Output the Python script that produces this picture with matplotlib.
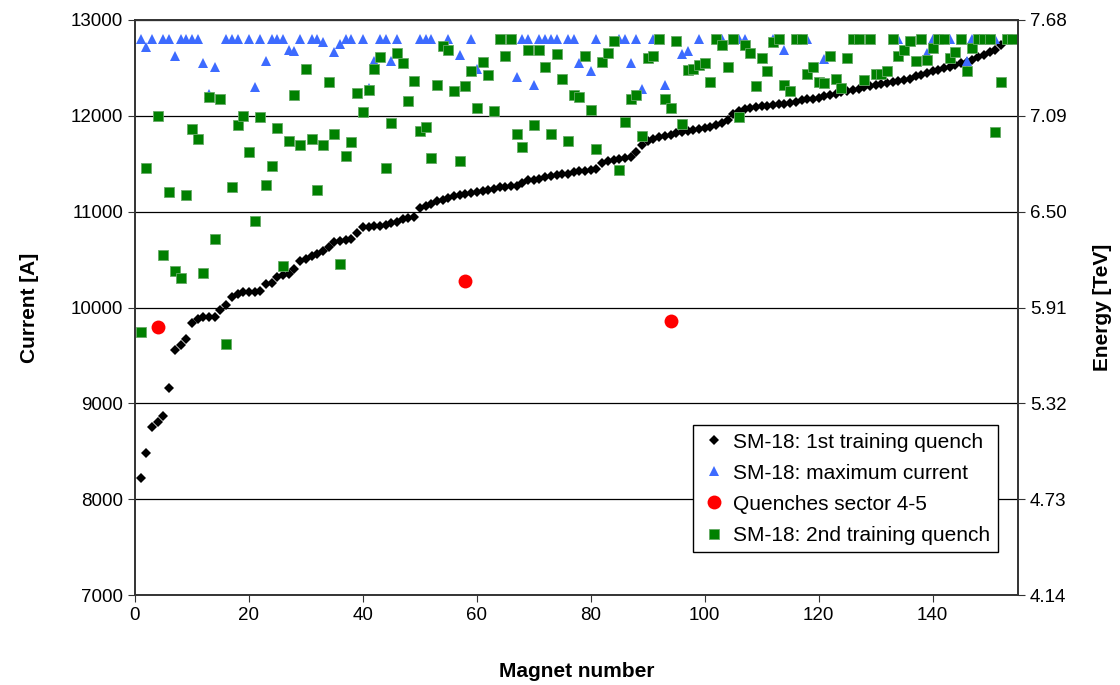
import matplotlib.pyplot as plt
import numpy as np

plt.rcParams['font.family'] = ['Liberation Sans', 'DejaVu Sans']

# SM-18: 1st training quench, magnets sorted by current
first_x = list(range(1, 153))
first_quench = [
    8220, 8480, 8750, 8810, 8870, 9160, 9560, 9610, 9670, 9840,
    9880, 9900, 9900, 9900, 9970, 10030, 10110, 10140, 10160, 10165,
    10165, 10175, 10250, 10255, 10315, 10340, 10345, 10400, 10490, 10510,
    10535, 10560, 10590, 10630, 10680, 10690, 10700, 10710, 10780, 10840,
    10845, 10850, 10855, 10865, 10880, 10890, 10920, 10935, 10945, 11040,
    11060, 11080, 11110, 11125, 11145, 11160, 11175, 11185, 11195, 11210,
    11215, 11225, 11240, 11255, 11260, 11265, 11270, 11300, 11325, 11335,
    11345, 11360, 11375, 11385, 11390, 11395, 11410, 11420, 11420, 11430,
    11440, 11510, 11525, 11535, 11545, 11555, 11575, 11620, 11690, 11735,
    11760, 11780, 11790, 11800, 11820, 11830, 11840, 11850, 11860, 11870,
    11885, 11900, 11925, 11960, 12020, 12050, 12070, 12080, 12090, 12100,
    12105, 12110, 12120, 12125, 12135, 12145, 12160, 12170, 12180, 12190,
    12205, 12215, 12230, 12245, 12255, 12270, 12280, 12300, 12310, 12320,
    12330, 12340, 12350, 12360, 12370, 12385, 12410, 12430, 12450, 12465,
    12480, 12495, 12510, 12530, 12545, 12560, 12580, 12610, 12630, 12660,
    12690, 12735,
]

# SM-18: maximum current
max_x = [1, 2, 3, 5, 6, 7, 8, 9, 10, 11, 12, 13, 14, 16, 17, 18, 20, 21, 22, 23, 24, 25,
         26, 27, 28, 29, 31, 32, 33, 35, 36, 37, 38, 40, 41, 42, 43, 44, 45, 46, 50, 51,
         52, 55, 57, 59, 60, 62, 65, 67, 68, 69, 70, 71, 72, 73, 74, 76, 77,
         78, 80, 81, 85, 86, 87, 88, 89, 91, 93, 96, 97, 99, 103,
         106, 107, 112, 114, 118, 121, 122,
         132, 134, 139, 140, 143, 146, 147, 151]
max_current = [12800, 12720, 12800, 12800, 12800, 12620, 12800, 12800, 12800, 12800, 12550,
               12230, 12510, 12800, 12800, 12800, 12800, 12300, 12800, 12570, 12800, 12800,
               12800, 12690, 12675, 12800, 12800, 12800, 12770, 12665, 12745, 12800, 12800,
               12800, 12290, 12570, 12800, 12800, 12570, 12800, 12800, 12800,
               12800, 12800, 12630, 12800, 12490, 12430, 12620, 12405, 12800, 12800, 12325,
               12800, 12800, 12800, 12800, 12800, 12800,
               12545, 12465, 12800, 12800, 12800, 12550, 12800, 12275, 12800, 12320, 12640,
               12675, 12800, 12800,
               12800, 12800, 12800, 12690, 12800, 12590, 12620,
               12465, 12800, 12655, 12800, 12800, 12570, 12800, 12800]

# Quenches in sector 4-5
sector_x = [4, 58, 94]
sector_quench = [9800, 10280, 9860]

# SM-18: 2nd training quench
second_x = [1, 2] + list(range(4, 155))
second_quench = [
    9740, 11460, 12000, 10550, 11200, 10380, 10305, 11175, 11860, 11755,
    10360, 12195, 10720, 12180, 9620, 11255, 11900, 12000, 11625, 10900,
    11985, 11275, 11475, 11870,
    10435, 11740, 12215, 11700, 12485, 11755, 11225, 11700, 12355, 11810,
    10450, 11585, 11725, 12240, 12040, 12270, 12485, 12610, 11455, 11925,
    12655, 12550, 12150, 12365, 11845, 11885, 11555,
    12325, 12725, 12690, 12255, 11530, 12310, 12470, 12085, 12560, 12430,
    12050, 12800, 12620, 12800, 11810, 11670, 12685, 11900, 12685, 12510,
    11810, 12640, 12385, 11740, 12215,
    12195, 12620, 12055, 11655, 12560, 12655, 12780, 11430, 11935, 12180,
    12215, 11790, 12605, 12620, 12800, 12180, 12085, 12780, 11915, 12475,
    12490, 12525, 12545, 12355, 12800, 12735, 12510,
    12800, 11985, 12740, 12650, 12310, 12600, 12470, 12770, 12800, 12325,
    12255, 12800, 12800, 12435, 12510, 12355, 12345, 12620, 12385, 12290,
    12600, 12800, 12800, 12375, 12800,
    12440, 12440, 12465, 12800, 12620, 12685, 12780, 12570, 12800, 12580,
    12710, 12800, 12800, 12600, 12670, 12800, 12470, 12710, 12800, 12800,
    12800, 11830, 12355, 12800, 12800,
]

current_ticks = [7000, 8000, 9000, 10000, 11000, 12000, 13000]
# conversion current -> beam energy
tev_per_amp = 7.68 / 13000

fig = plt.figure(figsize=(11.2, 6.85), dpi=100)
ax = fig.add_axes([0.1205, 0.131, 0.7885, 0.840])

ax.plot(first_x, first_quench, 'D', color='black', markersize=4.8, markeredgewidth=0,
        label='SM-18: 1st training quench')
ax.plot(max_x, max_current, '^', color='#3d6bff', markersize=7, markeredgewidth=0,
        label='SM-18: maximum current')
ax.plot(sector_x, sector_quench, 'o', color='#ff0000', markersize=10, markeredgewidth=0,
        label='Quenches sector 4-5')
ax.plot(second_x, second_quench, 's', color='#008000', markersize=7, markeredgewidth=0.6,
        markeredgecolor='#66aa66', label='SM-18: 2nd training quench')

ax.set_xlim(0, 155)
ax.set_ylim(7000, 13000)
ax.set_xticks(np.arange(0, 141, 20))
ax.set_yticks(current_ticks)
ax.grid(axis='y', color='black', linewidth=0.9)
ax.set_axisbelow(True)
for s in ax.spines.values():
    s.set_color('#333333')
    s.set_linewidth(1.2)
ax.tick_params(labelsize=13.5, direction='out', length=5, color='#333333')

ax.set_xlabel('Magnet number', fontsize=15, fontweight='bold', labelpad=27)
ax.set_ylabel('Current [A]', fontsize=15, fontweight='bold', labelpad=23)

ax2 = ax.twinx()
ax2.set_ylim(7000, 13000)
ax2.set_yticks(current_ticks)
ax2.set_yticklabels(['%.2f' % (c * tev_per_amp) for c in current_ticks])
ax2.tick_params(labelsize=13.5, direction='out', length=5, color='#333333')
ax2.set_ylabel('Energy [TeV]', fontsize=15, fontweight='bold', labelpad=19)
for s in ax2.spines.values():
    s.set_color('#333333')
    s.set_linewidth(1.2)

leg = ax.legend(loc='lower right', bbox_to_anchor=(0.977, 0.075), fontsize=15,
                frameon=True, fancybox=False, edgecolor='black', framealpha=1,
                handletextpad=0.3, handlelength=1.3, borderpad=0.35, labelspacing=0.58,
                borderaxespad=0)
leg.get_frame().set_linewidth(1.0)

fig.savefig('out.png', dpi=100)
